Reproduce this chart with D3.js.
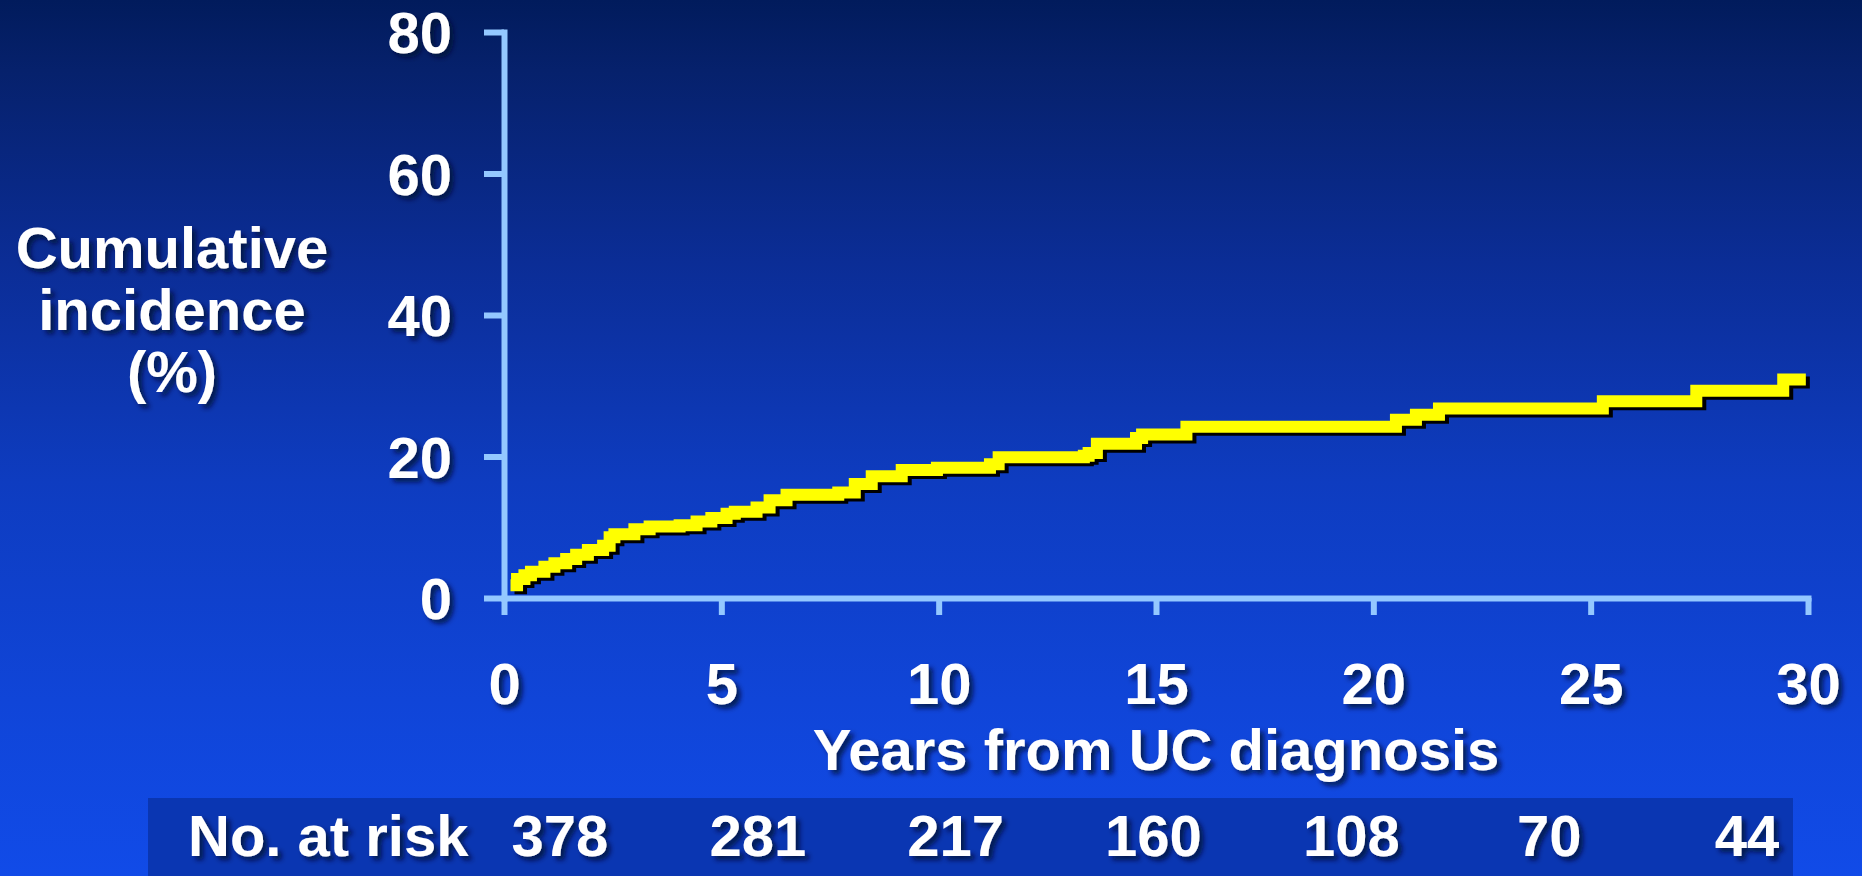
<!DOCTYPE html>
<html>
<head>
<meta charset="utf-8">
<script src="https://cdn.jsdelivr.net/npm/d3@7"></script>
<style>
  html, body { margin: 0; padding: 0; background: #0b35b0; overflow: hidden; }
  svg { display: block; }
  text { font-family: "Liberation Sans", Arial, sans-serif; font-weight: bold; fill: #ffffff; }
</style>
</head>
<body>
<svg id="chart" width="1862" height="876"></svg>
<script>
// ---- data ----
const years = [0.15, 0.30, 0.47, 0.62, 0.93, 1.16, 1.43, 1.66, 1.93, 2.28, 2.43, 2.54, 3.00, 3.35, 4.04, 4.43, 4.77, 5.12, 5.31, 5.81, 6.11, 6.50, 7.69, 8.07, 8.46, 9.15, 9.96, 11.18, 11.38, 13.34, 13.45, 13.64, 14.54, 14.68, 15.70, 20.52, 20.98, 21.51, 25.28, 27.43, 29.43, 29.95];
const incidence = [1.8, 2.7, 3.2, 3.7, 4.4, 4.9, 5.5, 6.1, 6.8, 7.4, 8.6, 9.0, 9.7, 10.1, 10.3, 10.8, 11.3, 11.9, 12.2, 12.8, 13.8, 14.6, 14.9, 16.1, 17.2, 18.1, 18.4, 18.9, 19.9, 20.1, 20.5, 21.8, 22.6, 23.1, 24.2, 25.2, 25.9, 26.8, 27.8, 29.3, 30.9, 30.9];
const xTicks = [0, 5, 10, 15, 20, 25, 30];
const yTicks = [0, 20, 40, 60, 80];
const atRiskLabel = "No. at risk";
const atRisk = [378, 281, 217, 160, 108, 70, 44];
const yLabelLines = ["Cumulative", "incidence", "(%)"];
const xLabel = "Years from UC diagnosis";

// ---- setup ----
const W = 1862, H = 876;
const svg = d3.select("#chart");
const defs = svg.append("defs");

const grad = defs.append("linearGradient").attr("id", "bg").attr("x1", 0).attr("y1", 0).attr("x2", 0).attr("y2", 1);
[[0, "#011b5c"], [0.08, "#06216c"], [0.3, "#0b2d96"], [0.55, "#0e3cc0"], [0.8, "#1045d8"], [1, "#114be8"]]
  .forEach(([o, c]) => grad.append("stop").attr("offset", o).attr("stop-color", c));

const f = defs.append("filter").attr("id", "tshadow").attr("x", "-10%").attr("y", "-20%").attr("width", "130%").attr("height", "150%");
f.append("feDropShadow").attr("dx", 4).attr("dy", 4).attr("stdDeviation", 2.5)
  .attr("flood-color", "#000a35").attr("flood-opacity", 0.8);

svg.append("rect").attr("width", W).attr("height", H).attr("fill", "url(#bg)");

const x = d3.scaleLinear().domain([0, 30]).range([504, 1808]);
const y = d3.scaleLinear().domain([0, 80]).range([598, 32]);
const axisColor = "#94c8ff";

// ---- axes ----
const gy = svg.append("g").attr("transform", `translate(${x(0)},0)`)
  .call(d3.axisLeft(y).tickValues(yTicks).tickSize(20).tickSizeOuter(0).tickPadding(32));
const gx = svg.append("g").attr("transform", `translate(0,${y(0)})`)
  .call(d3.axisBottom(x).tickValues(xTicks).tickSize(17).tickSizeOuter(0));

[gy, gx].forEach(g => {
  g.select(".domain").attr("stroke", axisColor).attr("stroke-width", 6).attr("stroke-linecap", "square");
  g.selectAll(".tick line").attr("stroke", axisColor).attr("stroke-width", 6);
  g.selectAll(".tick text").attr("fill", "#fff").attr("font-size", 58)
    .attr("font-family", '"Liberation Sans", Arial, sans-serif').attr("font-weight", "bold")
    .attr("filter", "url(#tshadow)");
});
gy.selectAll(".tick text").attr("dy", "0.36em");
gx.selectAll(".tick text").attr("y", 106).attr("dy", 0);

// ---- curve ----
const pts = years.map((t, i) => [t, incidence[i]]);
const line = d3.line().x(d => x(d[0])).y(d => y(d[1])).curve(d3.curveStepAfter);
svg.append("path").datum(pts).attr("d", line).attr("fill", "none")
  .attr("stroke", "#000000").attr("stroke-width", 12).attr("stroke-linejoin", "miter")
  .attr("transform", "translate(4,3)");
svg.append("path").datum(pts).attr("d", line).attr("fill", "none")
  .attr("stroke", "#ffff00").attr("stroke-width", 12).attr("stroke-linejoin", "miter");

// ---- axis titles ----
const yl = svg.append("text").attr("text-anchor", "middle").attr("font-size", 58).attr("filter", "url(#tshadow)");
yLabelLines.forEach((s, i) => {
  yl.append("tspan").attr("x", 172).attr("y", 268 + i * 62).text(s);
});
svg.append("text").attr("x", x(15)).attr("y", 770).attr("text-anchor", "middle")
  .attr("font-size", 58).attr("filter", "url(#tshadow)").text(xLabel);

// ---- at-risk table ----
svg.append("rect").attr("x", 148).attr("y", 798).attr("width", 1793 - 148).attr("height", H - 798)
  .attr("fill", "#0a36b2");
svg.append("text").attr("x", 188).attr("y", 856).attr("font-size", 58)
  .attr("filter", "url(#tshadow)").text(atRiskLabel);
const rx = d3.scalePoint().domain(xTicks).range([560, 1747]);
svg.selectAll(".risk").data(atRisk).enter().append("text").attr("class", "risk")
  .attr("x", (d, i) => rx(xTicks[i])).attr("y", 856).attr("text-anchor", "middle")
  .attr("font-size", 58).attr("filter", "url(#tshadow)").text(d => d);
</script>
</body>
</html>
